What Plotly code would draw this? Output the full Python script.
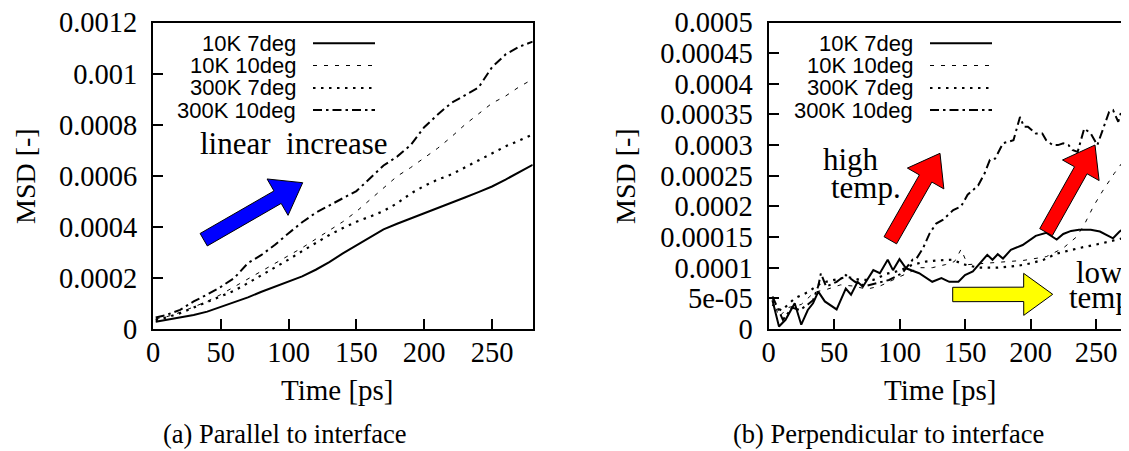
import math
import plotly.graph_objects as go

# ---------------- data ----------------
series_names = ["10K 7deg", "10K 10deg", "300K 7deg", "300K 10deg"]

# (a) parallel to interface  (MSD values in units of 1e-6)
a_t_10k7 = [2, 10, 20, 30, 40, 50, 60, 70, 80, 90, 100, 110, 120, 130, 140, 150, 160, 170, 180, 190, 200, 210, 220, 230, 240, 250, 260, 270, 280]
a_v_10k7 = [28, 35, 44, 55, 68, 86, 104, 124, 146, 165, 185, 206, 232, 262, 296, 328, 360, 390, 412, 432, 454, 474, 495, 515, 536, 558, 585, 613, 643]
a_t_10k10 = [2, 10, 20, 30, 40, 50, 60, 70, 80, 90, 100, 110, 120, 130, 140, 150, 160, 170, 180, 190, 200, 210, 220, 230, 240, 250, 260, 270, 278]
a_v_10k10 = [40, 48, 65, 85, 108, 135, 165, 198, 228, 258, 288, 318, 352, 385, 420, 460, 505, 550, 598, 632, 670, 708, 752, 800, 842, 884, 912, 948, 972]
a_t_300k7 = [2, 10, 20, 30, 40, 50, 60, 70, 80, 90, 100, 110, 120, 130, 140, 150, 160, 170, 180, 190, 200, 210, 220, 230, 240, 250, 260, 270, 280]
a_v_300k7 = [35, 45, 62, 84, 108, 130, 150, 180, 210, 240, 272, 305, 338, 368, 395, 420, 440, 462, 492, 530, 560, 585, 605, 632, 660, 688, 715, 738, 762]
a_t_300k10 = [2, 10, 20, 30, 40, 50, 60, 70, 80, 90, 100, 110, 120, 130, 140, 150, 160, 170, 180, 190, 200, 210, 220, 230, 240, 250, 260, 270, 280]
a_v_300k10 = [45, 55, 75, 108, 135, 165, 200, 258, 290, 330, 375, 418, 455, 485, 512, 540, 590, 640, 675, 720, 790, 840, 885, 915, 945, 1025, 1075, 1105, 1125]

# (b) perpendicular to interface  (MSD values in units of 1e-6)
b_t_10k7 = [3, 8, 13, 20, 25, 30, 34, 38, 43, 52, 59, 63, 68, 72, 80, 85, 91, 95, 100, 105, 115, 125, 132, 138, 145, 150, 156, 161, 167, 171, 175, 179, 185, 194, 204, 212, 220, 225, 231, 237, 246, 253, 263, 268, 273, 280]
b_v_10k7 = [47, 4, 15, 42, 7, 31, 42, 61, 45, 32, 66, 56, 77, 69, 96, 91, 113, 96, 114, 99, 91, 77, 83, 77, 77, 88, 94, 107, 121, 113, 122, 115, 129, 137, 152, 157, 146, 155, 160, 162, 162, 159, 148, 159, 167, 170]
b_t_10k10 = [3, 8, 15, 25, 35, 45, 55, 65, 75, 85, 95, 105, 115, 125, 135, 142, 147, 152, 165, 180, 195, 212, 225, 235, 241, 248, 255, 264, 272, 280]
b_v_10k10 = [50, 20, 35, 40, 60, 65, 72, 70, 65, 70, 80, 90, 100, 100, 105, 110, 130, 105, 107, 110, 112, 118, 132, 150, 170, 200, 225, 254, 278, 300]
b_t_300k7 = [3, 10, 20, 30, 40, 50, 60, 70, 80, 90, 100, 110, 120, 130, 140, 150, 160, 175, 190, 200, 210, 220, 237, 255, 273, 280]
b_v_300k7 = [40, 30, 50, 60, 75, 80, 85, 80, 80, 90, 95, 105, 110, 112, 113, 105, 100, 100, 103, 107, 113, 123, 132, 140, 150, 153]
b_t_300k10 = [3, 11, 18, 24, 30, 34, 38, 40, 44, 52, 59, 66, 74, 82, 92, 102, 110, 113, 118, 123, 128, 133, 141, 147, 152, 160, 165, 169, 173, 179, 187, 192, 195, 198, 204, 209, 212, 217, 221, 225, 229, 232, 236, 241, 246, 251, 255, 260, 263, 267, 270, 272, 275, 280]
b_v_300k10 = [53, 15, 35, 31, 40, 47, 70, 91, 69, 77, 88, 77, 70, 75, 80, 91, 113, 115, 132, 156, 172, 178, 194, 200, 219, 234, 254, 276, 278, 303, 308, 346, 330, 330, 319, 319, 308, 300, 300, 303, 300, 292, 289, 327, 319, 300, 325, 354, 357, 338, 360, 400, 423, 430]

VALUE_UNIT = 1e-6

a_yticks = [0, 0.0002, 0.0004, 0.0006, 0.0008, 0.001, 0.0012]
a_yticktext = ["0", "0.0002", "0.0004", "0.0006", "0.0008", "0.001", "0.0012"]
b_yticks = [0, 0.00005, 0.0001, 0.00015, 0.0002, 0.00025, 0.0003, 0.00035, 0.0004, 0.00045, 0.0005]
b_yticktext = ["0", "5e-05", "0.0001", "0.00015", "0.0002", "0.00025", "0.0003", "0.00035", "0.0004", "0.00045", "0.0005"]
xticks = [0, 50, 100, 150, 200, 250]

# ---------------- layout helpers ----------------
# The page body has an 8px default margin, so the figure is drawn 8px smaller and
# reference-pixel positions are shifted by that offset.
OFF = 8
W, H = 1129 - OFF, 451 - OFF
SERIF = "Liberation Serif, Times New Roman, serif"
SANS = "Liberation Sans, Arial, sans-serif"

styles = {
    "10K 7deg": dict(color="black", width=2, dash="solid"),
    "10K 10deg": dict(color="black", width=1, dash="4px,7px"),
    "300K 7deg": dict(color="black", width=2.2, dash="2.5px,5.5px"),
    "300K 10deg": dict(color="black", width=2, dash="9px,4px,2.5px,4px"),
}


def px(x):
    return (x - OFF) / W


def py(y):
    return 1 - (y - OFF) / H


fig = go.Figure()

a_data = [(a_t_10k7, a_v_10k7), (a_t_10k10, a_v_10k10), (a_t_300k7, a_v_300k7), (a_t_300k10, a_v_300k10)]
b_data = [(b_t_10k7, b_v_10k7), (b_t_10k10, b_v_10k10), (b_t_300k7, b_v_300k7), (b_t_300k10, b_v_300k10)]

for name, (t, v) in zip(series_names, a_data):
    fig.add_trace(go.Scatter(x=t, y=[val * VALUE_UNIT for val in v], mode="lines", name=name,
                             line=styles[name], xaxis="x", yaxis="y", showlegend=False))
for name, (t, v) in zip(series_names, b_data):
    fig.add_trace(go.Scatter(x=t, y=[val * VALUE_UNIT for val in v], mode="lines", name=name,
                             line=styles[name], xaxis="x2", yaxis="y2", showlegend=False))

ydom = [py(329), py(22.5)]
axis_common = dict(showgrid=False, zeroline=False, showline=True, linecolor="black", linewidth=2,
                   ticks="inside", ticklen=10, tickwidth=1.5, tickcolor="black",
                   tickfont=dict(family=SERIF, size=28.5, color="black"), automargin=False,
                   ticklabeloverflow="allow")

fig.update_layout(
    width=W, height=H, template="none",
    paper_bgcolor="white", plot_bgcolor="white",
    margin=dict(l=0, r=0, t=0, b=0),
    xaxis=dict(domain=[px(153), px(532.7)], range=[0, 280], tickvals=xticks, mirror=True,
               anchor="y", ticklabelstandoff=-3, **axis_common),
    yaxis=dict(domain=ydom, range=[0, 0.0012], tickvals=a_yticks, ticktext=a_yticktext, mirror=True,
               anchor="x", ticklabelstandoff=8, **axis_common),
    xaxis2=dict(domain=[px(768.5), 1.0], range=[0, (1129 - 768.5) / 1.31], tickvals=xticks, mirror=True,
                anchor="y2", ticklabelstandoff=-3, **axis_common),
    yaxis2=dict(domain=ydom, range=[0, 0.0005], tickvals=b_yticks, ticktext=b_yticktext, mirror=False,
                anchor="x2", ticklabelstandoff=8, **axis_common),
)

annotations = []
shapes = []


def text(x, y, s, size, family=SERIF, xanchor="center", angle=0):
    annotations.append(dict(x=px(x), y=py(y), xref="paper", yref="paper", text=s, showarrow=False,
                            xanchor=xanchor, yanchor="middle", textangle=angle,
                            font=dict(family=family, size=size, color="black")))


# axis titles and captions
text(25, 176, "MSD [-]", 28, angle=-90)
text(625, 176, "MSD [-]", 28, angle=-90)
text(337, 390, "Time [ps]", 29)
text(940, 390, "Time [ps]", 29)
text(285, 434, "(a) Parallel to interface", 26.5)
text(888.5, 434, "(b) Perpendicular to interface", 26.5)

# gnuplot-style keys (label right-justified, line sample to its right)
key_rows = [43.3, 65.5, 88, 110]
for (text_right, l0, l1) in [(298, 313, 375), (915, 930, 992)]:
    for name, yrow in zip(series_names, key_rows):
        text(text_right, yrow, name, 22, family=SANS, xanchor="right")
        st = styles[name]
        shapes.append(dict(type="line", xref="paper", yref="paper", x0=px(l0), x1=px(l1),
                           y0=py(yrow), y1=py(yrow), line=dict(color="black", width=st["width"], dash=st["dash"])))

# annotation texts
text(294, 143, "linear&nbsp;&nbsp;increase", 31)
text(821, 159, "high", 31, xanchor="left")
text(829, 188, "temp.", 31, xanchor="left")
text(1074, 272, "low", 31, xanchor="left")
text(1067, 297, "temp.", 31, xanchor="left")


def arrow(x0, y0, x1, y1, color, sw=7.2, hw=21, hl=29):
    dx, dy = x1 - x0, y1 - y0
    L = math.hypot(dx, dy)
    ux, uy = dx / L, dy / L
    nx, ny = -uy, ux
    bx, by = x1 - ux * hl, y1 - uy * hl
    pts = [(x0 + nx * sw, y0 + ny * sw), (bx + nx * sw, by + ny * sw), (bx + nx * hw, by + ny * hw),
           (x1, y1), (bx - nx * hw, by - ny * hw), (bx - nx * sw, by - ny * sw), (x0 - nx * sw, y0 - ny * sw)]
    path = "M " + " L ".join(f"{px(x):.5f},{py(y):.5f}" for x, y in pts) + " Z"
    shapes.append(dict(type="path", xref="paper", yref="paper", path=path, fillcolor=color,
                       line=dict(color="black", width=1), layer="above"))


arrow(203.7, 239.7, 302.7, 182.7, "#0000ff")
arrow(890.3, 240.3, 940, 153.3, "#ff0000")
arrow(1046, 232.2, 1095, 145, "#ff0000")
arrow(952.7, 294.5, 1052.7, 294.3, "#ffff00")

fig.update_layout(annotations=annotations, shapes=shapes)
fig.write_html("out.html")
